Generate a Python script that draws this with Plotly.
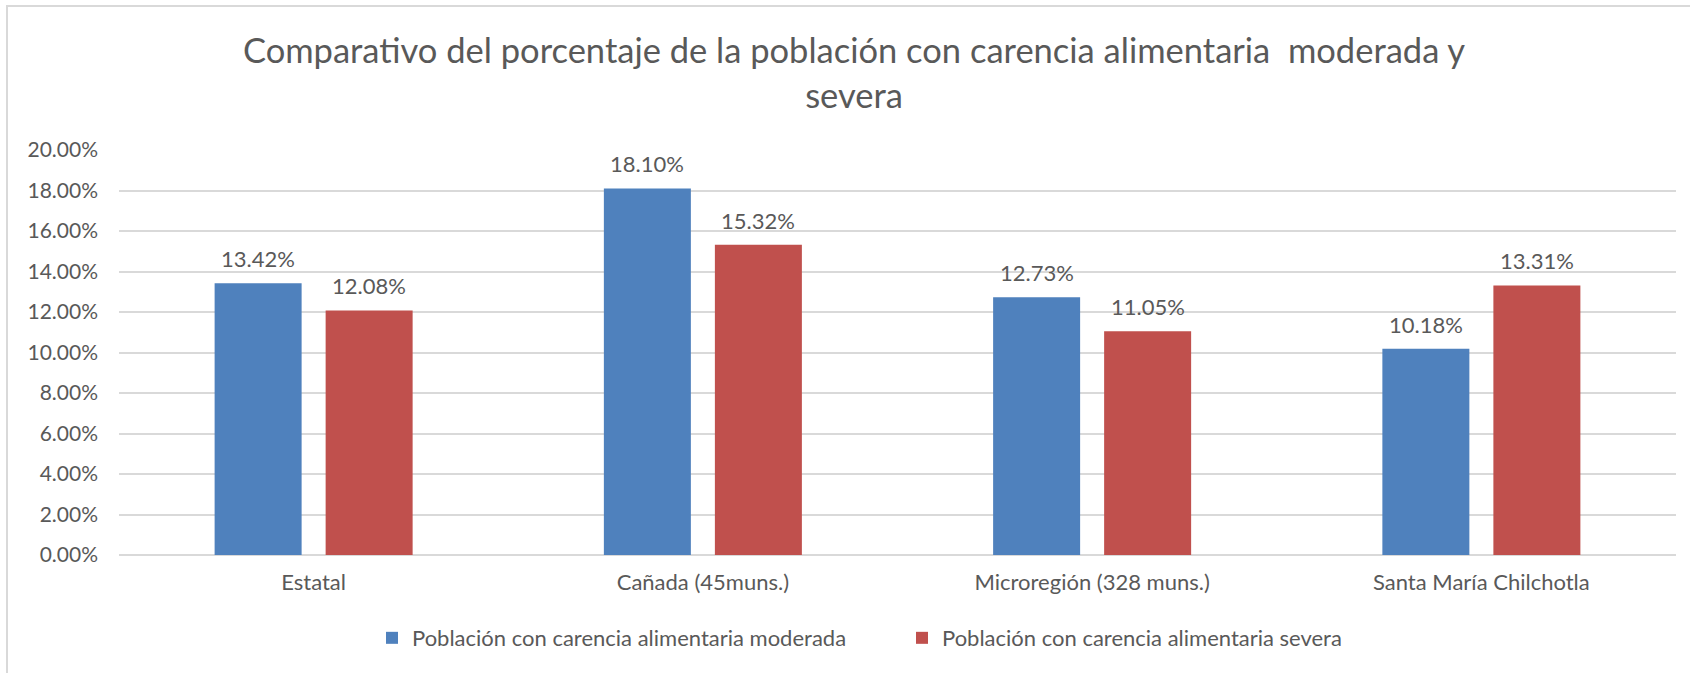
import plotly.graph_objects as go

# Categories and series values (percent of population)
categories = ["Estatal", "Cañada (45muns.)", "Microregión (328 muns.)", "Santa María Chilchotla"]
moderada = [13.42, 18.10, 12.73, 10.18]
severa = [12.08, 15.32, 11.05, 13.31]
series_names = ["Población con carencia alimentaria moderada",
                "Población con carencia alimentaria severa"]
y_ticks = [0, 2, 4, 6, 8, 10, 12, 14, 16, 18, 20]

BLUE = "#4f81bd"
RED = "#c0504d"
TEXT = "#595959"
GRID = "#d9d9d9"
FONT = "Lato, Calibri, Carlito, sans-serif"

W, H = 1690, 673
L, R, T, B = 119, 14, 150, 118

bar_w = 0.2235   # bar width in category units
shift = 0.1426   # distance of each bar centre from the category centre

x_idx = list(range(len(categories)))

fig = go.Figure()
for vals, name, color, sgn in [(moderada, series_names[0], BLUE, -1),
                               (severa, series_names[1], RED, 1)]:
    fig.add_trace(go.Bar(
        x=x_idx, y=vals, name=name, marker=dict(color=color, line=dict(width=0)),
        width=bar_w, offset=sgn * shift - bar_w / 2,
        hoverinfo="skip",
    ))
    # value labels above each bar
    for i, v in zip(x_idx, vals):
        fig.add_annotation(
            x=i + sgn * shift, y=v, text=f"{v:.2f}%", showarrow=False,
            yanchor="bottom", yshift=9,
            font=dict(family=FONT, size=22, color=TEXT),
        )

fig.update_layout(
    width=W, height=H,
    margin=dict(l=L, r=R, t=T, b=B, pad=0),
    paper_bgcolor="white", plot_bgcolor="white",
    barmode="overlay",
    title=dict(
        text="Comparativo del porcentaje de la población con carencia alimentaria\u00a0 moderada y<br>severa",
        x=854 / W, xanchor="center", y=1 - 63 / H, yanchor="top",
        font=dict(family=FONT, size=34.5, color=TEXT),
    ),
    font=dict(family=FONT, color=TEXT),
    showlegend=True,
    legend=dict(
        orientation="h", x=(372 - L) / (W - L - R), xanchor="left",
        y=-0.205, yanchor="middle",
        font=dict(family=FONT, size=22, color=TEXT),
        traceorder="normal", itemwidth=30, entrywidth=485,
    ),
    xaxis=dict(
        range=[-0.5, len(categories) - 0.5],
        tickmode="array", tickvals=x_idx, ticktext=categories,
        showgrid=False, zeroline=False, showline=False, ticks="",
        tickfont=dict(family=FONT, size=22, color=TEXT),
        ticklabelstandoff=12,
    ),
    yaxis=dict(
        range=[0, 20], tickmode="array", tickvals=y_ticks,
        ticktext=[f"{t:.2f}%" for t in y_ticks],
        showgrid=True, gridcolor=GRID, gridwidth=1.5,
        zeroline=True, zerolinecolor=GRID, zerolinewidth=1.5,
        showline=False, ticks="",
        tickfont=dict(family=FONT, size=21, color=TEXT),
        ticklabelstandoff=20,
    ),
)

# light frame around the chart area
pw, ph = W - L - R, H - T - B
fig.add_shape(
    type="rect", xref="paper", yref="paper",
    x0=(7 - L) / pw, x1=(1700 - L) / pw,
    y0=(H - B - 690) / ph, y1=(H - B - 6) / ph,
    line=dict(color=GRID, width=2), fillcolor="rgba(0,0,0,0)", layer="below",
)

fig.write_html("out.html")
